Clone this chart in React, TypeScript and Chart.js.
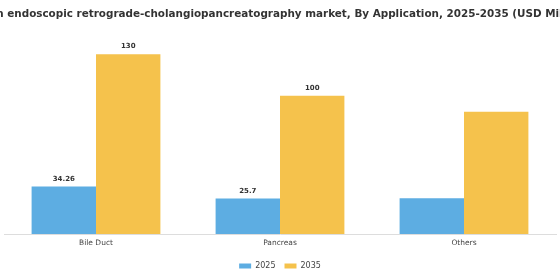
import React, { useEffect, useRef } from "react";
import { Chart, registerables } from "chart.js";

Chart.register(...registerables);

const titleText =
  "Japan endoscopic retrograde-cholangiopancreatography market, By Application, 2025-2035 (USD Million)";
const categories = ["Bile Duct", "Pancreas", "Others"];
const values2025 = [34.26, 25.7, 25.9];
const values2035 = [130, 100, 88.3];
const labels2025 = ["34.26", "25.7", ""];
const labels2035 = ["130", "100", ""];
const seriesNames = ["2025", "2035"];
const yMax = 146;

const valueLabelPlugin = {
  id: "valueLabels",
  afterDatasetsDraw(chart: any) {
    const ctx = chart.ctx;
    const lists = [labels2025, labels2035];
    ctx.save();
    ctx.font = "bold 7px 'DejaVu Sans'";
    ctx.fillStyle = "#333333";
    ctx.textAlign = "center";
    ctx.textBaseline = "bottom";
    chart.data.datasets.forEach((_ds: any, i: number) => {
      const meta = chart.getDatasetMeta(i);
      meta.data.forEach((bar: any, j: number) => {
        const t = lists[i][j];
        if (t) ctx.fillText(t, bar.x, bar.y - 4);
      });
    });
    ctx.restore();
  },
};

const wideTitlePlugin = {
  id: "wideTitle",
  afterDraw(chart: any) {
    const ctx = chart.ctx;
    ctx.save();
    ctx.font = "bold 10.4px 'DejaVu Sans'";
    ctx.fillStyle = "#333333";
    ctx.textAlign = "center";
    ctx.textBaseline = "middle";
    ctx.fillText(titleText, chart.width / 2, 14);
    ctx.restore();
  },
};

export default function App() {
  const ref = useRef<HTMLCanvasElement>(null);
  useEffect(() => {
    document.body.style.margin = "0";
    const chart = new Chart(ref.current!, {
      type: "bar",
      data: {
        labels: categories,
        datasets: [
          {
            label: seriesNames[0],
            data: values2025,
            backgroundColor: "#5DADE2",
            barPercentage: 1,
            categoryPercentage: 0.7,
          },
          {
            label: seriesNames[1],
            data: values2035,
            backgroundColor: "#F5C24C",
            barPercentage: 1,
            categoryPercentage: 0.7,
          },
        ],
      },
      options: {
        animation: false,
        responsive: false,
        maintainAspectRatio: false,
        layout: { padding: { left: 4, right: 4, top: 32, bottom: 0 } },
        plugins: {
          title: { display: false },
          legend: {
            position: "bottom",
            labels: {
              boxWidth: 12,
              boxHeight: 5,
              font: { family: "'DejaVu Sans'", size: 8 },
              color: "#444444",
              padding: 9,
            },
          },
          tooltip: { enabled: false },
        },
        scales: {
          x: {
            grid: { display: false, drawTicks: false },
            border: { display: true, color: "#dddddd" },
            ticks: { padding: 5, font: { family: "'DejaVu Sans'", size: 7.5 }, color: "#444444" },
          },
          y: {
            display: false,
            min: 0,
            max: yMax,
          },
        },
      },
      plugins: [valueLabelPlugin, wideTitlePlugin],
    });
    return () => chart.destroy();
  }, []);
  return (
    <div style={{ position: "fixed", left: 0, top: 0, width: 560, height: 280 }}>
      <canvas ref={ref} width={560} height={280} />
    </div>
  );
}
